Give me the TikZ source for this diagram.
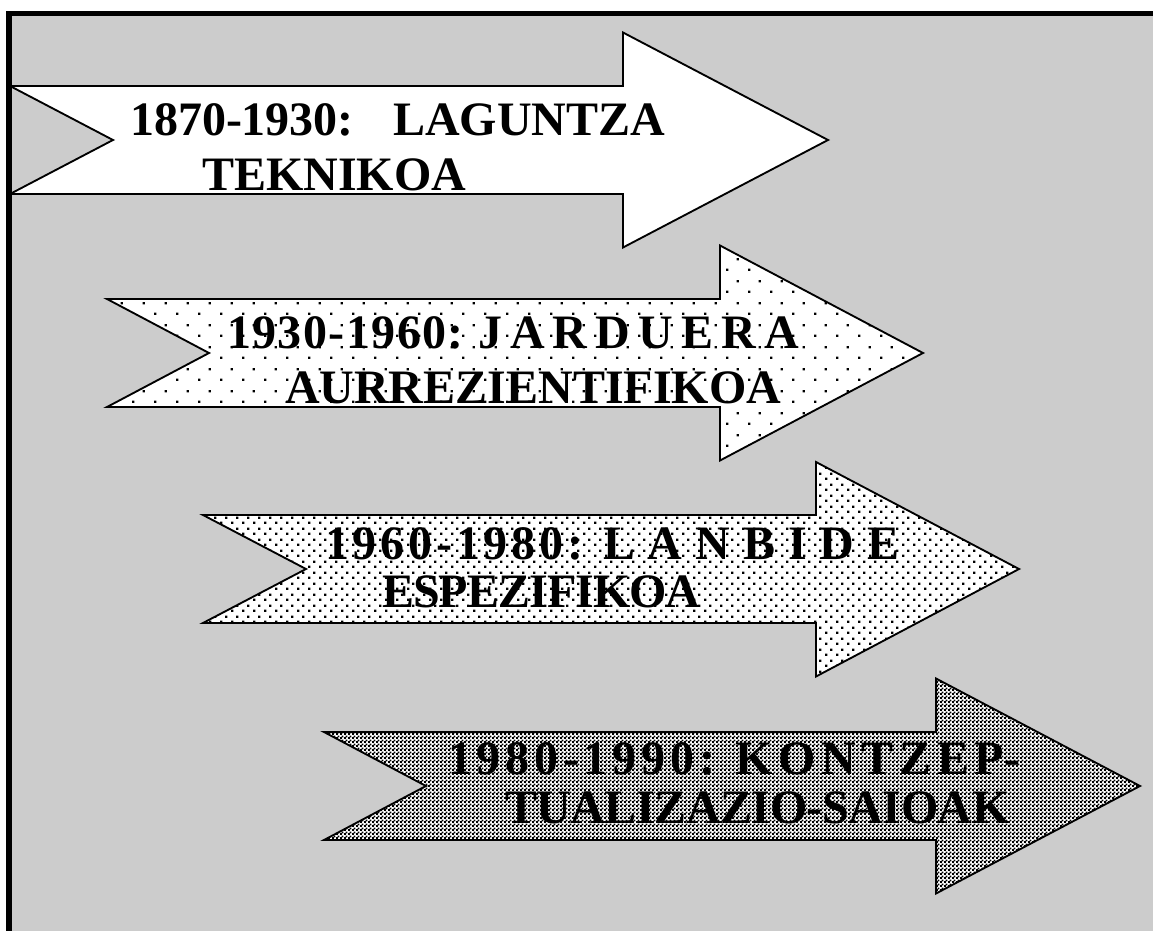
\documentclass[tikz,border=0pt]{standalone}
\usepackage{fontspec}
\setmainfont{Liberation Serif}
\usetikzlibrary{patterns.meta}
\definecolor{bggray}{RGB}{204,204,204}
\pgfdeclarepattern{
  name=sparsedots, type=uncolored,
  bottom left={\pgfpoint{0pt}{0pt}},
  top right={\pgfpoint{16.5pt}{16.5pt}},
  tile size={\pgfpoint{16.5pt}{16.5pt}},
  code={
    \pgfpathrectangle{\pgfpoint{0pt}{0pt}}{\pgfpoint{1.8pt}{1.8pt}}
    \pgfpathrectangle{\pgfpoint{8.25pt}{8.25pt}}{\pgfpoint{1.8pt}{1.8pt}}
    \pgfusepath{fill}
  }
}
\pgfdeclarepattern{
  name=densedots, type=uncolored,
  bottom left={\pgfpoint{0pt}{0pt}},
  top right={\pgfpoint{8.25pt}{8.25pt}},
  tile size={\pgfpoint{8.25pt}{8.25pt}},
  code={
    \pgfpathrectangle{\pgfpoint{0pt}{0pt}}{\pgfpoint{1.9pt}{1.9pt}}
    \pgfpathrectangle{\pgfpoint{4.125pt}{4.125pt}}{\pgfpoint{1.9pt}{1.9pt}}
    \pgfusepath{fill}
  }
}
\pgfdeclarepattern{
  name=checker, type=uncolored,
  bottom left={\pgfpoint{0pt}{0pt}},
  top right={\pgfpoint{3pt}{3pt}},
  tile size={\pgfpoint{3pt}{3pt}},
  code={
    \pgfpathrectangle{\pgfpoint{0pt}{0pt}}{\pgfpoint{1.75pt}{1.75pt}}
    \pgfpathrectangle{\pgfpoint{1.5pt}{1.5pt}}{\pgfpoint{1.75pt}{1.75pt}}
    \pgfusepath{fill}
  }
}
\tikzset{
  arrowshape/.style={draw=black, line width=1.4pt, line join=miter, fill=white},
  lbl/.style={anchor=base west, inner sep=0pt, outer sep=0pt, font=\bfseries\fontsize{36}{36}\selectfont}
}
\newcommand{\lsp}[1]{\addfontfeature{LetterSpace=#1}}
\begin{document}
\begin{tikzpicture}[x=0.75pt, y=-0.75pt]
\useasboundingbox (0,0) rectangle (1153,931);
\fill[white] (0,0) rectangle (1153,931);
\fill[bggray] (12,16) rectangle (1153,931);
% arrows
\path[arrowshape] (10,86) -- (623,86) -- (623,32.5) -- (828,140) -- (623,247.5) -- (623,194) -- (10,194) -- (113,140) -- cycle;
\path[arrowshape, postaction={pattern=sparsedots}] (107,299) -- (720,299) -- (720,245.5) -- (923,353) -- (720,460.5) -- (720,407) -- (107,407) -- (209,353) -- cycle;
\path[arrowshape, postaction={pattern=densedots}] (203,515) -- (816,515) -- (816,462) -- (1019,569) -- (816,676.5) -- (816,623) -- (203,623) -- (306,569) -- cycle;
\path[arrowshape, postaction={pattern=checker}] (324,732) -- (936,732) -- (936,678.5) -- (1140,786) -- (936,893.5) -- (936,840) -- (324,840) -- (426,786) -- cycle;
% labels
\node[lbl] (t1a) at (130,135) {1870-1930:};
\node[lbl] (t1b) at (393,135) {LAGUNTZA};
\node[lbl] (t1c) at (202,190) {TEKNIKOA};
\node[lbl] (t2a) at (227,348) {\lsp{3}1930-1960:};
\node[lbl] (t2b) at (478,348) {\lsp{17}JARDUERA};
\node[lbl] (t2c) at (285,403) {AURREZIENTIFIKOA};
\node[lbl] (t3a) at (325,559) {\lsp{8}1960-1980:};
\node[lbl] (t3b) at (603,559) {\lsp{27}LANBIDE};
\node[lbl] (t3c) at (382,607) {\lsp{-2}ESPEZIFIKOA};
\node[lbl] (t4a) at (448,774) {\lsp{10}1980-1990:};
\node[lbl] (t4b) at (735,774) {{\lsp{12}KONTZEP}-};
\node[lbl] (t4c) at (505,823) {\lsp{-1}TUALIZAZIO-SAIOAK};
% frame
\fill[black] (6,11) rectangle (1153,16);
\fill[black] (6,11) rectangle (12,931);
\end{tikzpicture}
\end{document}
